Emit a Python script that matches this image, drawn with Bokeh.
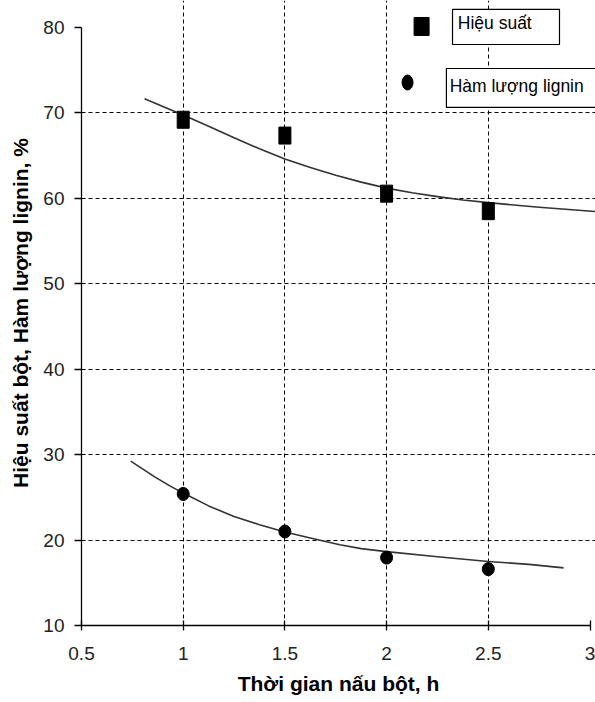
from bokeh.plotting import figure
from bokeh.models import Range1d, FixedTicker
from bokeh.core.properties import value
from bokeh.embed import file_html
from bokeh.resources import INLINE

# ---- data ----
time_h = [1.0, 1.5, 2.0, 2.5]
hieu_suat = [69.2, 67.35, 60.55, 58.5]
lignin = [25.4, 21.0, 17.95, 16.6]

hs_trend_x = [0.81, 0.9, 1.0, 1.125, 1.25, 1.375, 1.5, 1.625, 1.75, 1.875,
              2.0, 2.125, 2.25, 2.375, 2.5, 2.75, 3.03]
hs_trend_y = [71.65, 70.75, 69.75, 68.45, 67.1, 65.8, 64.6, 63.6, 62.7, 61.9,
              61.2, 60.65, 60.2, 59.8, 59.5, 58.95, 58.45]
lg_trend_x = [0.742, 0.86, 0.93, 1.0, 1.125, 1.25, 1.375, 1.5, 1.625, 1.77,
              1.875, 2.0, 2.25, 2.5, 2.7, 2.87]
lg_trend_y = [29.25, 27.4, 26.4, 25.5, 24.0, 22.75, 21.8, 20.95, 20.25, 19.45,
              19.0, 18.65, 18.05, 17.5, 17.15, 16.75]

x_ticks = [0.5, 1, 1.5, 2, 2.5, 3]
y_ticks = [10, 20, 30, 40, 50, 60, 70, 80]
x_grid = [1, 1.5, 2, 2.5]
y_grid = [20, 30, 40, 50, 60, 70]

series_names = ["Hiệu suất", "Hàm lượng lignin"]
x_label = "Thời gian nấu bột, h"
y_label = "Hiệu suất bột, Hàm lượng lignin, %"

FONT = "Liberation Sans"

p = figure(width=595, height=702, output_backend="svg", toolbar_location=None,
           x_range=Range1d(0.5, 3.027), y_range=Range1d(10, 83.16),
           min_border_left=81, min_border_right=0, min_border_top=0,
           min_border_bottom=77)
p.outline_line_color = None
p.background_fill_color = "white"

# grids
p.xgrid.ticker = FixedTicker(ticks=x_grid)
p.ygrid.ticker = FixedTicker(ticks=y_grid)
for g in (p.xgrid, p.ygrid):
    g.grid_line_color = "black"
    g.grid_line_dash = "4 3"
    g.grid_line_width = 1
p.xgrid.bounds = (10, 80)

# axes
p.xaxis.ticker = FixedTicker(ticks=x_ticks)
p.yaxis.ticker = FixedTicker(ticks=y_ticks)
p.yaxis.bounds = (10, 80)
p.xaxis.bounds = (0.5, 3.0)
p.xaxis.major_label_overrides = {0.5: "0.5", 1: "1", 1.5: "1.5", 2: "2", 2.5: "2.5", 3: "3"}
for ax in (p.xaxis, p.yaxis):
    ax.axis_line_color = "black"
    ax.axis_line_width = 1.3
    ax.major_tick_line_color = "black"
    ax.major_tick_line_width = 1.3
    ax.minor_tick_line_color = None
    ax.major_label_text_font = FONT
    ax.major_label_text_font_size = "19px"
    ax.major_label_text_color = "#222222"
    ax.axis_label_text_font = FONT
    ax.axis_label_text_font_style = "bold"
    ax.axis_label_text_font_size = "21px"
    ax.axis_label_text_color = "black"
p.xaxis.major_tick_out = 5
p.xaxis.major_tick_in = 5
p.xaxis.major_label_standoff = 16
p.yaxis.major_tick_out = 7
p.yaxis.major_tick_in = 0
p.yaxis.major_label_standoff = 10
p.xaxis.axis_label = x_label
p.yaxis.axis_label = y_label
p.xaxis.axis_label_standoff = 9
p.yaxis.axis_label_standoff = 8

# trend lines
p.line(hs_trend_x, hs_trend_y, line_color="#333333", line_width=1.6,
       line_join="round")
p.line(lg_trend_x, lg_trend_y, line_color="#333333", line_width=1.6,
       line_join="round")

# markers
p.rect(time_h, hieu_suat, width=12, height=17, width_units="screen",
       height_units="screen", fill_color="black", line_color="black")
p.ellipse(time_h, lignin, width=12, height=13, width_units="screen",
          height_units="screen", fill_color="black", line_color="black")

# manual legend (layout positions)
p.rect([2.172], [80.12], width=15, height=18, width_units="screen",
       height_units="screen", fill_color="black", line_color="black")
p.ellipse([2.103], [73.56], width=11, height=15, width_units="screen",
          height_units="screen", fill_color="black", line_color="black")
p.quad(left=[2.324, 2.294], right=[2.85, 3.2], top=[82.11, 75.2],
       bottom=[78.01, 70.64], fill_color="white", line_color="black", line_width=1.2)
p.text([2.35, 2.31], [80.55, 73.2], text=series_names,
       text_font=value(FONT), text_font_size="17.5px", text_color="black",
       text_baseline="middle", text_align="left")

open("out.html", "w").write(file_html(p, INLINE))
